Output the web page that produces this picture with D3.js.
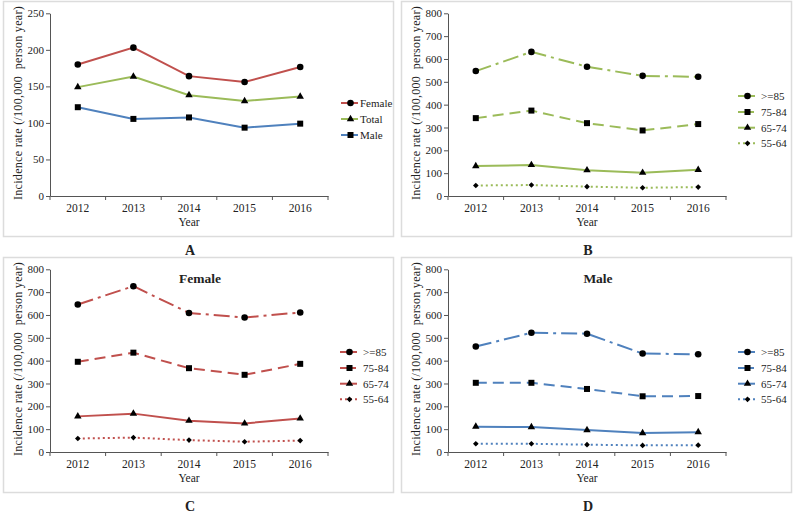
<!DOCTYPE html>
<html><head><meta charset="utf-8">
<script src="https://cdn.jsdelivr.net/npm/d3@7"></script>
<style>body{margin:0;background:#fff}svg{display:block}text{font-family:"Liberation Serif","Times New Roman",serif;fill:#222}</style>
</head><body>
<svg id="c" width="797" height="523"></svg>
<script>
const years = ["2012","2013","2014","2015","2016"];
// Panel A
const femaleTotal = [180, 203, 164, 156, 176.5];
const totalAll = [149, 163.5, 138, 130, 136];
const maleTotal = [121.5, 105.5, 107.5, 93.5, 99];
// Panel B (total by age)
const totalAge85 = [547, 631, 566, 526, 522];
const totalAge75 = [341, 374, 319, 287, 315];
const totalAge65 = [131, 136, 113, 102, 115];
const totalAge55 = [46, 48, 41, 36, 39];
// Panel C (female by age)
const femaleAge85 = [646, 726, 609, 589, 611];
const femaleAge75 = [395, 435, 367, 338, 386];
const femaleAge65 = [156, 168, 137, 125, 147];
const femaleAge55 = [59, 63, 52, 45, 50];
// Panel D (male by age)
const maleAge85 = [462, 522, 518, 431, 428];
const maleAge75 = [303, 303, 276, 244, 245];
const maleAge65 = [111, 109, 96, 83, 87];
const maleAge55 = [36, 36, 32, 29, 30];

const ageLabels = [">=85", "75-84", "65-74", "55-64"];
const sexLabels = ["Female", "Total", "Male"];
const yTicksA = [0, 50, 100, 150, 200, 250];
const yTicksAge = [0, 100, 200, 300, 400, 500, 600, 700, 800];
const yTitle = "Incidence rate (/100,000\u00a0\u00a0person year)";

const RED = "#C0504D", GREEN = "#9BBB59", BLUE = "#4F81BD";
const DASH = {longdashdot: "16,5,3,5", dash: "11,6", solid: null, dot: "2,3"};

const svg = d3.select("#c");

function marker(g, type, x, y) {
  const sym = {circle: d3.symbolCircle, square: d3.symbolSquare, triangle: d3.symbolTriangle, diamond: d3.symbolSquare};
  const size = {circle: 34, square: 36, triangle: 24, diamond: 16}[type];
  const rot = type === "diamond" ? " rotate(45)" : "";
  g.append("path").attr("d", d3.symbol(sym[type], size)()).attr("transform", `translate(${x},${y})${rot}`).attr("fill", "#000");
}

function panel(ox, oy, cfg) {
  const g = svg.append("g").attr("transform", `translate(${ox},${oy})`);
  g.append("rect").attr("x", 3.5).attr("y", 1.5).attr("width", 390).attr("height", 235)
    .attr("fill", "none").attr("stroke", "#dcdcdc").attr("stroke-width", 1.5);
  const x = d3.scaleBand().domain(years).range([50, 328]);
  const y = d3.scaleLinear().domain([0, cfg.yMax]).range([196, 13.3]);
  const ya = g.append("g").attr("transform", "translate(50,0)")
    .call(d3.axisLeft(y).tickValues(cfg.ticks).tickSize(4).tickSizeOuter(0));
  ya.selectAll("text").attr("font-size", 11).attr("x", -6).style("font-family", "Liberation Serif").attr("fill", "#222");
  ya.select(".domain").attr("stroke", "#555");
  ya.selectAll(".tick line").attr("stroke", "#555");
  const xa = g.append("g").attr("transform", "translate(0,196)")
    .call(d3.axisBottom(x).tickSize(0).tickPadding(8));
  xa.selectAll("text").attr("font-size", 11.5).style("font-family", "Liberation Serif").attr("fill", "#222");
  xa.select(".domain").attr("stroke", "#555");
  const bounds = years.map(d => x(d)).concat([x(years[years.length - 1]) + x.bandwidth()]);
  xa.selectAll("line.bt").data(bounds).enter().append("line").attr("class", "bt")
    .attr("x1", d => d).attr("x2", d => d).attr("y1", 0).attr("y2", 4).attr("stroke", "#555");
  g.append("text").attr("x", 189).attr("y", 226).attr("text-anchor", "middle").attr("font-size", 11.5).text("Year");
  g.append("text").attr("transform", "translate(22,103) rotate(-90)").attr("text-anchor", "middle")
    .attr("font-size", 12).attr("letter-spacing", 0.3).text(yTitle);
  if (cfg.title) g.append("text").attr("x", 200).attr("y", 27).attr("text-anchor", "middle")
    .attr("font-size", 13.5).attr("font-weight", "bold").text(cfg.title);
  const line = d3.line().x((d, i) => x(years[i]) + x.bandwidth() / 2).y(d => y(d));
  cfg.series.forEach((s, k) => {
    const col = s.color || cfg.color;
    g.append("path").datum(s.values).attr("d", line).attr("fill", "none").attr("stroke", col)
      .attr("stroke-width", 2).attr("stroke-dasharray", s.dash);
    s.values.forEach((v, i) => marker(g, s.marker, x(years[i]) + x.bandwidth() / 2, y(v)));
    const ly = cfg.legendY[k];
    g.append("line").attr("x1", cfg.legX0).attr("x2", cfg.legX1).attr("y1", ly).attr("y2", ly)
      .attr("stroke", col).attr("stroke-width", 2).attr("stroke-dasharray", s.dash ? s.legDash : null);
    marker(g, s.marker, (cfg.legX0 + cfg.legX1) / 2 + 1, ly);
    g.append("text").attr("x", cfg.legTx).attr("y", ly + 4).attr("font-size", 11).text(s.label);
  });
  g.append("text").attr("x", 190).attr("y", 255).attr("text-anchor", "middle").attr("font-size", 14)
    .attr("font-weight", "bold").text(cfg.letter);
}

function ageSeries(v85, v75, v65, v55) {
  return [
    {label: ageLabels[0], values: v85, dash: DASH.longdashdot, legDash: "7,3", marker: "circle"},
    {label: ageLabels[1], values: v75, dash: DASH.dash, legDash: "7,2", marker: "square"},
    {label: ageLabels[2], values: v65, dash: DASH.solid, marker: "triangle"},
    {label: ageLabels[3], values: v55, dash: DASH.dot, legDash: "2,3", marker: "diamond"}
  ];
}

panel(0, 0, {
  yMax: 250, ticks: yTicksA, letter: "A",
  legendY: [103, 119, 135], legX0: 341, legX1: 358, legTx: 360,
  series: [
    {label: sexLabels[0], values: femaleTotal, color: RED, dash: null, marker: "circle"},
    {label: sexLabels[1], values: totalAll, color: GREEN, dash: null, marker: "triangle"},
    {label: sexLabels[2], values: maleTotal, color: BLUE, dash: null, marker: "square"}
  ]
});
panel(398, 0, {
  yMax: 800, ticks: yTicksAge, letter: "B", color: GREEN,
  legendY: [96, 112, 127.7, 143.3], legX0: 340, legX1: 357, legTx: 363,
  series: ageSeries(totalAge85, totalAge75, totalAge65, totalAge55)
});
panel(0, 256, {
  yMax: 800, ticks: yTicksAge, letter: "C", color: RED, title: "Female",
  legendY: [96, 112, 127.7, 143.3], legX0: 340, legX1: 357, legTx: 363,
  series: ageSeries(femaleAge85, femaleAge75, femaleAge65, femaleAge55)
});
panel(398, 256, {
  yMax: 800, ticks: yTicksAge, letter: "D", color: BLUE, title: "Male",
  legendY: [96, 112, 127.7, 143.3], legX0: 340, legX1: 357, legTx: 363,
  series: ageSeries(maleAge85, maleAge75, maleAge65, maleAge55)
});
</script>
</body></html>
